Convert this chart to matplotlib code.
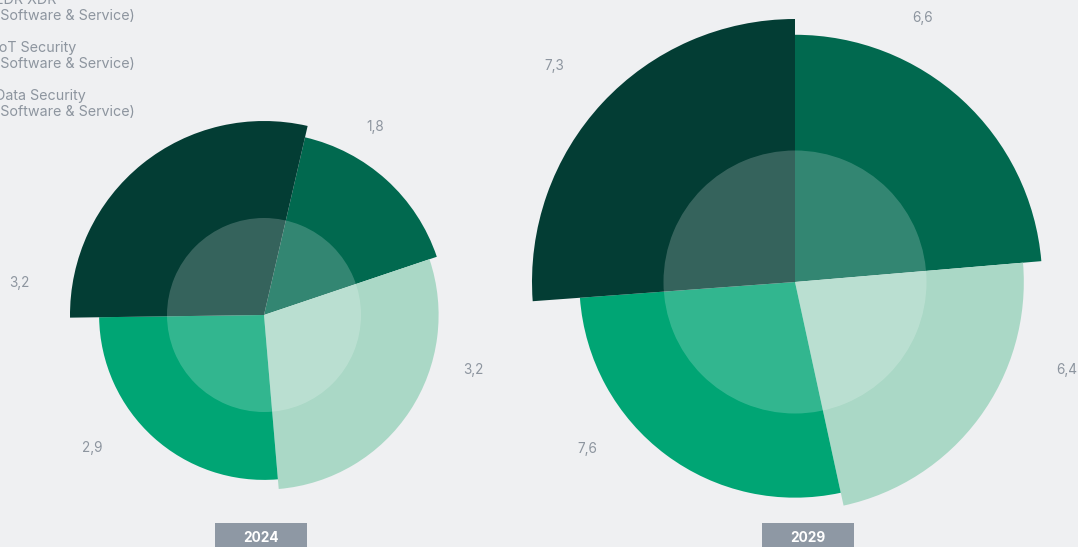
import numpy as np
import matplotlib.pyplot as plt
from matplotlib.patches import Rectangle

W, H = 1078, 547

# legend entries visible in the (cropped) picture
legend_labels = ['EDR XDR', 'IoT Security', 'Data Security']
legend_sub = '(Software & Service)'

years = ['2024', '2029']
# slice order, clockwise: medium green, light green, green, dark green
values_2024 = [1.8, 3.2, 2.9, 3.2]
values_2029 = [6.6, 6.4, 7.6, 7.3]
# relative outer radius of each slice
radius_2024 = [0.94, 0.90, 0.85, 1.0]
radius_2029 = [0.94, 0.87, 0.82, 1.0]

colors = ['#01694f', '#aad8c6', '#00a574', '#033d34']
bg = '#eff0f2'
grey = '#8d959f'

plt.rcParams['font.family'] = ['Inter', 'DejaVu Sans']

fig = plt.figure(figsize=(W / 100, H / 100), dpi=100)
fig.patch.set_facecolor(bg)


def px_axes(cx, cy, r):
    # polar axes centred on (cx, cy) in pixel coords measured from top-left
    return fig.add_axes([(cx - r) / W, (H - cy - r) / H, 2 * r / W, 2 * r / H],
                        projection='polar')


def rose(ax, values, radii, start, lab_theta, lab_r):
    ax.set_theta_zero_location('N')
    ax.set_theta_direction(-1)
    v = np.array(values)
    widths = 2 * np.pi * v / v.sum()
    lefts = np.radians(start) + np.concatenate([[0], np.cumsum(widths)[:-1]])
    ax.bar(lefts, radii, width=widths, align='edge', color=colors,
           linewidth=0, clip_on=False)
    # translucent inner disc
    ax.bar(0, 0.5, width=2 * np.pi, color='white', alpha=0.2, linewidth=0)
    ax.set_ylim(0, 1)
    ax.axis('off')
    for val, t, r in zip(values, lab_theta, lab_r):
        ax.text(np.radians(t), r, f'{val:.1f}'.replace('.', ','), color=grey,
                fontsize=9.8, ha='center', va='center')


ax1 = px_axes(264, 315, 194)
rose(ax1, values_2024, radius_2024, 13,
     [30.6, 104.7, 232.3, 277.5], [1.125, 1.115, 1.12, 1.27])

ax2 = px_axes(795, 282, 263)
rose(ax2, values_2029, radius_2029, 0,
     [25.9, 108.0, 231.2, 311.9], [1.114, 1.087, 1.014, 1.228])

# legend (partly outside the canvas, as in the source)
for i, lab in enumerate(legend_labels):
    y0 = 0 + 48 * i
    fig.text(-5 / W, 1 - y0 / H, lab, color=grey, fontsize=10.3,
             ha='left', va='center')
    fig.text(-5 / W, 1 - (y0 + 16) / H, legend_sub, color=grey, fontsize=10.3,
             ha='left', va='center')

# year boxes
for yr, x0 in zip(years, [215, 762]):
    fig.add_artist(Rectangle((x0 / W, 0), 92 / W, 24 / H, transform=fig.transFigure,
                             facecolor='#8e98a4', edgecolor='none'))
    fig.text((x0 + 46) / W, 9 / H, yr, color='white', fontsize=9.8,
             fontweight='bold', ha='center', va='center')

fig.savefig('out.png', dpi=100, facecolor=bg)
